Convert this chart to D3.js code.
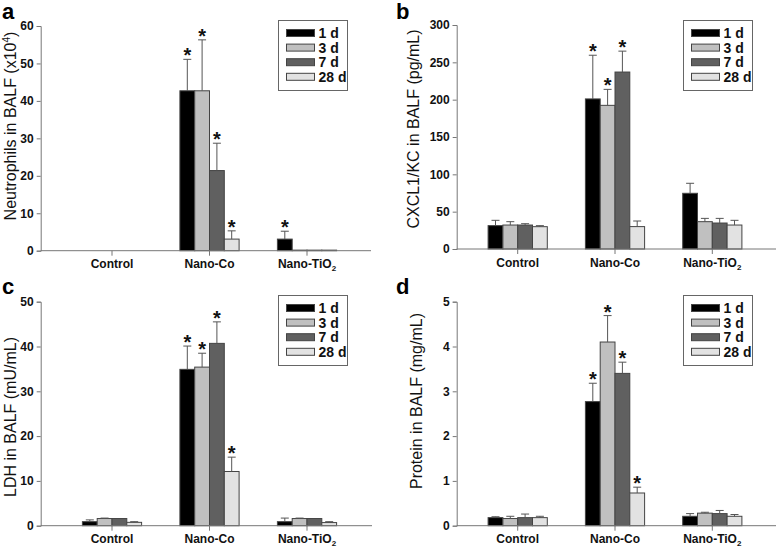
<!DOCTYPE html>
<html>
<head>
<meta charset="utf-8">
<script src="https://cdn.jsdelivr.net/npm/d3@7"></script>
<style>
  body { margin: 0; background: #fff; }
  svg { font-family: "Liberation Sans", Arial, sans-serif; }
</style>
</head>
<body>
<svg id="chart" width="778" height="549"></svg>
<script>
// Categories and time points
const categories = ["Control", "Nano-Co", "Nano-TiO2"];
const days = ["1 d", "3 d", "7 d", "28 d"];
const dayColors = ["#000000", "#c0c0c0", "#606060", "#e2e2e2"];

// Panel a: neutrophils (x10^4), mean and SD per category x day
const neutroMean = [[0, 0, 0, 0], [42.7, 42.7, 21.4, 3.1], [3.1, 0.15, 0.15, 0.15]];
const neutroSD   = [[0, 0, 0, 0], [8.4, 13.6, 7.3, 2.2], [2.1, 0, 0, 0]];
const neutroStar = [[0, 0, 0, 0], [1, 1, 1, 1], [1, 0, 0, 0]];

// Panel b: CXCL1/KC (pg/mL)
const kcMean = [[31.3, 32.1, 32.1, 29.9], [201, 192.4, 237, 30], [74.6, 36.6, 34.8, 32.1]];
const kcSD   = [[7.1, 4.5, 1.8, 1.4], [58.5, 21.4, 28, 7.5], [13.4, 4.4, 6.2, 6.3]];
const kcStar = [[0, 0, 0, 0], [1, 1, 1, 0], [0, 0, 0, 0]];

// Panel c: LDH (mU/mL)
const ldhMean = [[0.9, 1.6, 1.6, 0.75], [34.9, 35.4, 40.7, 12.1], [0.9, 1.6, 1.6, 0.7]];
const ldhSD   = [[0.4, 0.1, 0, 0.15], [5.2, 3.1, 4.8, 3.2], [0.8, 0.1, 0, 0.2]];
const ldhStar = [[0, 0, 0, 0], [1, 1, 1, 1], [0, 0, 0, 0]];

// Panel d: protein (mg/mL)
const protMean = [[0.18, 0.16, 0.18, 0.18], [2.77, 4.1, 3.4, 0.73], [0.21, 0.28, 0.27, 0.21]];
const protSD   = [[0.02, 0.05, 0.08, 0.03], [0.41, 0.59, 0.25, 0.13], [0.06, 0.02, 0.07, 0.04]];
const protStar = [[0, 0, 0, 0], [1, 1, 1, 1], [0, 0, 0, 0]];

// Y tick values per panel
const neutroTicks = [0, 10, 20, 30, 40, 50, 60];
const kcTicks = [0, 50, 100, 150, 200, 250, 300];
const ldhTicks = [0, 10, 20, 30, 40, 50];
const protTicks = [0, 1, 2, 3, 4, 5];

const svg = d3.select("#chart");

function drawPanel(opt) {
    const g = svg.append("g");
    const ticks = opt.ticks;

    const y = d3.scaleLinear()
        .domain([0, ticks[ticks.length - 1]])
        .range([opt.y0, opt.yTop]);

    const x = d3.scalePoint()
        .domain(categories)
        .range(opt.centers);

    const xInner = d3.scaleBand()
        .domain(days)
        .range([-29.6, 29.6]);

    // y axis
    const yAxis = g.append("g")
        .attr("transform", `translate(${opt.left},0)`)
        .call(d3.axisLeft(y).tickValues(ticks).tickFormat(d3.format("~g")).tickSize(4).tickPadding(3));
    yAxis.select(".domain").attr("stroke", "#777");
    yAxis.selectAll(".tick line").attr("stroke", "#777");
    yAxis.selectAll(".tick text")
        .attr("font-size", "12px")
        .attr("font-weight", "bold")
        .attr("fill", "#111");

    // bars
    const data = [];
    categories.forEach((c, i) => {
        days.forEach((d, j) => {
            data.push({cat: c, day: d, j: j, mean: opt.mean[i][j], sd: opt.sd[i][j], star: opt.star[i][j]});
        });
    });

    const bars = g.append("g");
    bars.selectAll("rect")
        .data(data.filter(d => d.mean > 0))
        .join("rect")
        .attr("x", d => x(d.cat) + xInner(d.day))
        .attr("y", d => y(d.mean))
        .attr("width", xInner.bandwidth())
        .attr("height", d => y(0) - y(d.mean))
        .attr("fill", d => dayColors[d.j])
        .attr("stroke", "#444")
        .attr("stroke-width", 1);

    // error bars (upper only)
    const errs = data.filter(d => d.sd > 0);
    const cx = d => x(d.cat) + xInner(d.day) + xInner.bandwidth() / 2;
    bars.selectAll("line.err")
        .data(errs)
        .join("line")
        .attr("class", "err")
        .attr("x1", cx).attr("x2", cx)
        .attr("y1", d => y(d.mean)).attr("y2", d => y(d.mean + d.sd))
        .attr("stroke", "#555");
    bars.selectAll("line.cap")
        .data(errs)
        .join("line")
        .attr("class", "cap")
        .attr("x1", d => cx(d) - 4).attr("x2", d => cx(d) + 4)
        .attr("y1", d => y(d.mean + d.sd)).attr("y2", d => y(d.mean + d.sd))
        .attr("stroke", "#555");

    // asterisks
    bars.selectAll("text.star")
        .data(data.filter(d => d.star))
        .join("text")
        .attr("class", "star")
        .attr("x", cx)
        .attr("y", d => y(d.mean + d.sd) + 3)
        .attr("text-anchor", "middle")
        .attr("font-size", "20px")
        .attr("font-weight", "bold")
        .attr("fill", "#111")
        .text("*");

    // x axis
    g.append("line")
        .attr("x1", opt.left).attr("x2", opt.right)
        .attr("y1", opt.y0).attr("y2", opt.y0)
        .attr("stroke", "#777");
    g.selectAll("line.xtick")
        .data(categories)
        .join("line")
        .attr("class", "xtick")
        .attr("x1", d => x(d)).attr("x2", d => x(d))
        .attr("y1", opt.y0).attr("y2", opt.y0 + 5)
        .attr("stroke", "#777");
    const xl = g.selectAll("text.xlab")
        .data(categories)
        .join("text")
        .attr("class", "xlab")
        .attr("x", d => x(d))
        .attr("y", opt.y0 + 17.5)
        .attr("text-anchor", "middle")
        .attr("font-size", "12px")
        .attr("font-weight", "bold")
        .attr("fill", "#111");
    xl.each(function(d) {
        const t = d3.select(this);
        if (d === "Nano-TiO2") {
            t.append("tspan").text("Nano-TiO");
            t.append("tspan").attr("font-size", "8px").attr("dy", 3).text("2");
        } else {
            t.text(d);
        }
    });

    // y title
    const title = g.append("text")
        .attr("transform", `translate(${opt.titleX},${opt.titleY}) rotate(-90)`)
        .attr("text-anchor", "middle")
        .attr("font-size", "16px")
        .attr("fill", "#111");
    opt.title(title);

    // panel letter
    g.append("text")
        .attr("x", opt.letterX)
        .attr("y", opt.letterY)
        .attr("font-size", "22px")
        .attr("font-weight", "bold")
        .text(opt.letter);

    // legend
    const lg = g.append("g").attr("transform", `translate(${opt.legX},${opt.legY})`);
    lg.append("rect")
        .attr("width", 69).attr("height", 70)
        .attr("fill", "#fff").attr("stroke", "#666");
    days.forEach((d, j) => {
        lg.append("rect")
            .attr("x", 8).attr("y", 9 + j * 14.6)
            .attr("width", 28).attr("height", 7)
            .attr("fill", dayColors[j]).attr("stroke", "#444");
        lg.append("text")
            .attr("x", 40).attr("y", 17.5 + j * 14.6)
            .attr("font-size", "14px")
            .attr("font-weight", "bold")
            .attr("fill", "#111")
            .text(d);
    });
}

drawPanel({
    left: 40.7, right: 371, y0: 250.7, yTop: 26, centers: [112, 307],
    ticks: neutroTicks, mean: neutroMean, sd: neutroSD, star: neutroStar,
    letter: "a", letterX: 2, letterY: 19, legX: 278.5, legY: 20.5,
    titleX: 16, titleY: 126,
    title: t => {
        t.append("tspan").text("Neutrophils in BALF (x10");
        t.append("tspan").attr("font-size", "10px").attr("dy", -6).text("4");
        t.append("tspan").attr("dy", 6).text(")");
    }
});

drawPanel({
    left: 456.7, right: 776, y0: 249, yTop: 25, centers: [517.7, 712.3],
    ticks: kcTicks, mean: kcMean, sd: kcSD, star: kcStar,
    letter: "b", letterX: 396, letterY: 19, legX: 683.5, legY: 20.5,
    titleX: 419, titleY: 129,
    title: t => t.text("CXCL1/KC  in BALF (pg/mL)")
});

drawPanel({
    left: 40.7, right: 372, y0: 525.7, yTop: 301.7, centers: [112, 307],
    ticks: ldhTicks, mean: ldhMean, sd: ldhSD, star: ldhStar,
    letter: "c", letterX: 2, letterY: 294, legX: 278.5, legY: 295.5,
    titleX: 16, titleY: 417,
    title: t => t.text("LDH in BALF (mU/mL)")
});

drawPanel({
    left: 456.7, right: 776, y0: 525.7, yTop: 301.7, centers: [517.7, 712.3],
    ticks: protTicks, mean: protMean, sd: protSD, star: protStar,
    letter: "d", letterX: 396, letterY: 294, legX: 683.5, legY: 295.5,
    titleX: 422, titleY: 401,
    title: t => t.text("Protein in BALF (mg/mL)")
});
</script>
</body>
</html>
